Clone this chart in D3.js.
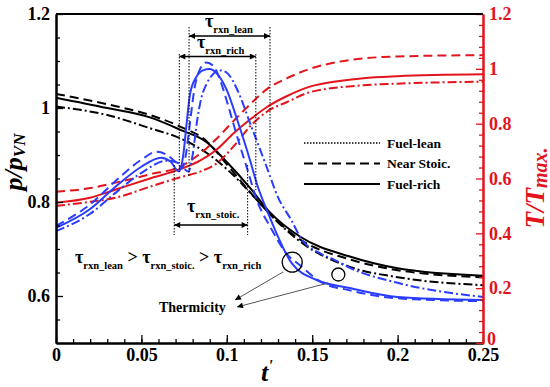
<!DOCTYPE html>
<html><head><meta charset="utf-8">
<script src="https://cdn.jsdelivr.net/npm/d3@7"></script>
<style>
body{margin:0;background:#fff}
svg{display:block}
svg text{font-family:'Liberation Serif','Times New Roman','DejaVu Serif',serif !important;font-weight:bold}
</style>
</head><body>
<svg id="c" width="550" height="387" font-family="Liberation Serif, Times New Roman, DejaVu Serif, serif"></svg>
<script>
// ---------- tick labels ----------
const xTicks=[0,0.05,0.1,0.15,0.2,0.25];
const yLeftTicks=[0.6,0.8,1,1.2];
const yRightTicks=[0,0.2,0.4,0.6,0.8,1,1.2];

// ---------- pressure p/pVN (left axis) ----------
const pRich=[[0,1.022],[0.03,1.0],[0.055,0.98],[0.0732,0.953],[0.088,0.928],[0.1,0.885],[0.1136,0.83],[0.125,0.779],[0.143,0.726],[0.172,0.684],[0.2,0.659],[0.25,0.643]];
const pStoic=[[0,1.03],[0.03,1.008],[0.055,0.985],[0.073,0.96],[0.088,0.93],[0.1,0.88],[0.115,0.815],[0.125,0.775],[0.143,0.72],[0.172,0.678],[0.2,0.655],[0.25,0.64]];
const pLean=[[0,1.003],[0.03,0.985],[0.055,0.957],[0.073,0.935],[0.09,0.9],[0.1,0.87],[0.115,0.815],[0.125,0.775],[0.143,0.7155],[0.172,0.662],[0.2,0.64],[0.25,0.623]];

// ---------- thermicity (blue, left axis units) ----------
const thRich=[[0,0.745],[0.02,0.785],[0.035,0.833],[0.05,0.875],[0.0615,0.894],[0.067,0.886],[0.072,0.865],[0.0745,0.9],[0.0765,0.968],[0.0785,1.03],[0.082,1.065],[0.086,1.08],[0.09,1.083],[0.095,1.07],[0.1,1.038],[0.1068,0.967],[0.1136,0.889],[0.1175,0.84],[0.125,0.769],[0.138,0.67],[0.1526,0.634],[0.172,0.617],[0.2,0.598],[0.25,0.5915]];
const thStoic=[[0,0.749],[0.02,0.795],[0.035,0.845],[0.05,0.89],[0.059,0.907],[0.065,0.9],[0.07,0.885],[0.0735,0.872],[0.076,0.9],[0.0785,0.97],[0.081,1.04],[0.084,1.08],[0.088,1.097],[0.092,1.09],[0.097,1.05],[0.1,1.015],[0.106,0.94],[0.112,0.87],[0.118,0.8],[0.125,0.75],[0.135,0.69],[0.143,0.665],[0.155,0.63],[0.172,0.612],[0.2,0.595],[0.25,0.589]];
const thLean=[[0,0.738],[0.02,0.775],[0.035,0.82],[0.05,0.862],[0.065,0.888],[0.072,0.882],[0.0775,0.865],[0.08,0.9],[0.0825,0.97],[0.085,1.02],[0.088,1.05],[0.092,1.072],[0.096,1.08],[0.1,1.075],[0.106,1.04],[0.1136,0.968],[0.1233,0.875],[0.13,0.81],[0.138,0.76],[0.143,0.725],[0.155,0.69],[0.163,0.677],[0.172,0.66],[0.2,0.628],[0.25,0.598]];

// ---------- temperature T/Tmax (red, right axis) ----------
const tRich=[[0,0.512],[0.02,0.53],[0.035,0.56],[0.055,0.6],[0.0732,0.635],[0.0843,0.665],[0.094,0.705],[0.104,0.765],[0.1136,0.815],[0.1233,0.86],[0.135,0.9],[0.1487,0.935],[0.165,0.955],[0.18,0.966],[0.2,0.973],[0.25,0.98]];
const tStoic=[[0,0.552],[0.02,0.565],[0.035,0.585],[0.055,0.615],[0.0732,0.645],[0.0843,0.69],[0.094,0.745],[0.104,0.81],[0.1136,0.87],[0.1233,0.925],[0.135,0.965],[0.1487,1.0],[0.165,1.025],[0.18,1.038],[0.2,1.045],[0.25,1.05]];
const tLean=[[0,0.5],[0.02,0.515],[0.035,0.53],[0.055,0.57],[0.073,0.605],[0.0843,0.625],[0.094,0.655],[0.1038,0.716],[0.1136,0.79],[0.125,0.85],[0.135,0.878],[0.1487,0.915],[0.18,0.94],[0.2,0.946],[0.25,0.953]];

// ---------- annotations (data coordinates) ----------
const tauStoic=[0.0692,0.1122];
const tauRich=[0.0722,0.117];
const tauLean=[0.0779,0.1253];
const legendLabels=["Fuel-lean","Near Stoic.","Fuel-rich"];

const svg=d3.select("#c");
const x=d3.scaleLinear().domain([0,0.25]).range([56,483]);
const yL=d3.scaleLinear().domain([0.5,1.2]).range([343,14]);
const yR=d3.scaleLinear().domain([0,1.2]).range([343,14]);
const BLUE="#2a3cff", RED="#e2141c";
const DASH="9,5", DASHDOT="9,3,2,3";
const FONT="Liberation Serif, Times New Roman, DejaVu Serif, serif";
const SUB=10.5;

const defs=svg.append("defs");
defs.append("marker").attr("id","ah").attr("viewBox","0 0 10 10").attr("refX",10).attr("refY",5)
  .attr("markerWidth",10).attr("markerHeight",6).attr("markerUnits","userSpaceOnUse").attr("orient","auto-start-reverse")
  .append("path").attr("d","M0,0L10,5L0,10z").attr("fill","#000");
defs.append("marker").attr("id","ah2").attr("viewBox","0 0 10 10").attr("refX",10).attr("refY",5)
  .attr("markerWidth",9).attr("markerHeight",6).attr("markerUnits","userSpaceOnUse").attr("orient","auto")
  .append("path").attr("d","M0,0L10,5L0,10z").attr("fill","#000");

// ---------- curves ----------
const series=[
 {d:pRich,y:yL,c:"#000",dash:null},
 {d:pStoic,y:yL,c:"#000",dash:DASH},
 {d:pLean,y:yL,c:"#000",dash:DASHDOT},
 {d:tRich,y:yR,c:RED,dash:null},
 {d:tStoic,y:yR,c:RED,dash:DASH},
 {d:tLean,y:yR,c:RED,dash:DASHDOT},
 {d:thRich,y:yL,c:BLUE,dash:null},
 {d:thStoic,y:yL,c:BLUE,dash:DASH},
 {d:thLean,y:yL,c:BLUE,dash:DASHDOT}
];
series.forEach(s=>{
  const line=d3.line().x(d=>x(d[0])).y(d=>s.y(d[1])).curve(d3.curveMonotoneX);
  svg.append("path").attr("d",line(s.d)).attr("fill","none").attr("stroke",s.c)
    .attr("stroke-width",2).attr("stroke-dasharray",s.dash);
});

// ---------- axes ----------
const fmt=d=>String(d);
svg.append("g").attr("transform","translate(0,343)")
  .call(d3.axisBottom(x).tickValues(xTicks).tickFormat(fmt).tickSizeInner(-8).tickSizeOuter(0).tickPadding(5));
svg.append("g").attr("transform","translate(0,343)")
  .call(d3.axisBottom(x).tickValues(d3.range(0,0.2501,0.01)).tickFormat("").tickSizeInner(-4).tickSizeOuter(0));
svg.append("g").attr("transform","translate(56,0)")
  .call(d3.axisLeft(yL).tickValues(yLeftTicks).tickFormat(fmt).tickSizeInner(-7).tickSizeOuter(0).tickPadding(6));
svg.append("g").attr("transform","translate(56,0)")
  .call(d3.axisLeft(yL).tickValues(d3.range(0.55,1.2,0.05).filter(v=>Math.abs(v*5-Math.round(v*5))>0.01)).tickFormat("").tickSizeInner(-4).tickSizeOuter(0));
const gr=svg.append("g").attr("transform","translate(483,0)")
  .call(d3.axisRight(yR).tickValues(yRightTicks).tickFormat(fmt).tickSizeInner(-7).tickSizeOuter(0).tickPadding(6));
const gr2=svg.append("g").attr("transform","translate(483,0)")
  .call(d3.axisRight(yR).tickValues(d3.range(0.04,1.2,0.04).filter(v=>Math.abs(v*5-Math.round(v*5))>0.01)).tickFormat("").tickSizeInner(-4).tickSizeOuter(0));
svg.selectAll("g").attr("font-family",FONT);
svg.selectAll(".domain").attr("stroke-width",2);
svg.selectAll(".tick line").attr("stroke-width",1.3);
svg.selectAll(".tick text").attr("font-size",18).attr("font-family",FONT).attr("font-weight","bold").attr("fill","#000");
gr.selectAll(".tick text").attr("fill",RED);
gr.selectAll(".tick text").filter(d=>d===0).attr("dx",-2).attr("dy","0.1em");
gr.selectAll("line,path").attr("stroke",RED);
gr2.selectAll("line,path").attr("stroke",RED);
svg.append("line").attr("x1",x(0)).attr("x2",x(0.25)).attr("y1",yL(1.2)).attr("y2",yL(1.2)).attr("stroke","#000").attr("stroke-width",2);

// ---------- axis titles ----------
const tl=svg.append("text").attr("transform","translate(22,162) rotate(-90)").attr("text-anchor","middle").attr("font-style","italic");
tl.append("tspan").attr("font-size",26).text("p/p");
tl.append("tspan").attr("font-size",17).attr("dy",3).text("VN");
const tr=svg.append("text").attr("transform","translate(544,188) rotate(-90)").attr("text-anchor","middle").attr("font-style","italic").attr("fill",RED);
tr.append("tspan").attr("font-size",27).text("T/T");
tr.append("tspan").attr("font-size",20).attr("dy",3).text("max.");
const tx=svg.append("text").attr("x",261).attr("y",381).attr("font-style","italic");
tx.append("tspan").attr("font-size",26).text("t");
tx.append("tspan").attr("font-size",16).attr("dy",-10).text("'");

// ---------- tau reference lines ----------
function vline(t,p0,p1){svg.append("line").attr("x1",x(t)).attr("x2",x(t)).attr("y1",p0).attr("y2",p1)
  .attr("stroke","#000").attr("stroke-width",1).attr("stroke-dasharray","1.5,1.5");}
vline(tauStoic[0],165,235); vline(tauStoic[1],165,235);
vline(tauRich[0],54,172); vline(tauRich[1],54,190);
vline(tauLean[0],27,176); vline(tauLean[1],27,168);
function harrow(ts,yy){svg.append("line").attr("x1",x(ts[0])).attr("x2",x(ts[1])).attr("y1",yy).attr("y2",yy)
  .attr("stroke","#000").attr("stroke-width",1.3).attr("marker-start","url(#ah)").attr("marker-end","url(#ah)");}
harrow(tauLean,36); harrow(tauRich,56.5); harrow(tauStoic,225);

function tauLabel(px,py,sub){const t=svg.append("text").attr("x",px).attr("y",py);
  t.append("tspan").attr("font-size",18).text("τ");
  t.append("tspan").attr("font-size",SUB).attr("dy",6).text(sub);}
tauLabel(205,27,"rxn_lean");
tauLabel(197,48,"rxn_rich");
tauLabel(187,212,"rxn_stoic.");

const ineq=svg.append("text").attr("x",75).attr("y",263).attr("xml:space","preserve");
[["τ",18,0],["rxn_lean",SUB,6],[" > ",18,-6],["τ",18,0],["rxn_stoic.",SUB,6],[" > ",18,-6],["τ",18,0],["rxn_rich",SUB,6]]
 .forEach(a=>ineq.append("tspan").attr("font-size",a[1]).attr("dy",a[2]).text(a[0]));

// ---------- thermicity circles ----------
svg.append("circle").attr("cx",x(0.1383)).attr("cy",yL(0.672)).attr("r",10).attr("fill","none").attr("stroke","#000").attr("stroke-width",1.3);
svg.append("circle").attr("cx",x(0.1653)).attr("cy",yL(0.6457)).attr("r",6.5).attr("fill","none").attr("stroke","#000").attr("stroke-width",1.3);
svg.append("line").attr("x1",283).attr("y1",272).attr("x2",235).attr("y2",300).attr("stroke","#555").attr("stroke-width",1).attr("marker-end","url(#ah2)");
svg.append("line").attr("x1",328).attr("y1",283).attr("x2",237).attr("y2",307).attr("stroke","#555").attr("stroke-width",1).attr("marker-end","url(#ah2)");
svg.append("text").attr("x",159).attr("y",312).attr("font-size",14).text("Thermicity");

// ---------- legend ----------
const legDash=["1.5,1.5",DASH,null], legW=[1.3,2,2];
legendLabels.forEach((l,i)=>{
  const yy=143+i*20.5;
  svg.append("line").attr("x1",304).attr("x2",380).attr("y1",yy).attr("y2",yy).attr("stroke","#000")
    .attr("stroke-width",legW[i]).attr("stroke-dasharray",legDash[i]);
  svg.append("text").attr("x",387).attr("y",yy+4.5).attr("font-size",13.5).text(l);
});
</script>
</body></html>
